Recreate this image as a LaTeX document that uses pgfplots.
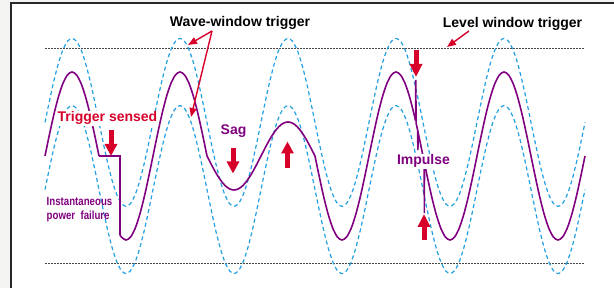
\documentclass[border=0pt]{standalone}
\usepackage{fontspec}
\setmainfont{Liberation Sans}
\usepackage{graphicx}
\usepackage{pgfplots}
\pgfplotsset{compat=1.18}
\usepackage{pgfplotstable}
\usetikzlibrary{arrows.meta}

\definecolor{wavepurple}{RGB}{128,0,128}
\definecolor{trigred}{RGB}{214,0,42}
\definecolor{winblue}{RGB}{35,160,225}
\definecolor{bggray}{RGB}{244,245,243}
\definecolor{framegray}{RGB}{40,40,40}
\definecolor{dotgray}{RGB}{70,70,70}

% wave-window limits: phase (deg), upper limit, lower limit
\pgfplotstableread{
phase upper lower
0 0.4 -0.4
15 0.6588 -0.1412
30 0.9 0.1
45 1.1071 0.3071
60 1.266 0.466
75 1.3659 0.5659
90 1.4 0.6
105 1.3659 0.5659
120 1.266 0.466
135 1.1071 0.3071
150 0.9 0.1
165 0.6588 -0.1412
180 0.4 -0.4
195 0.1412 -0.6588
210 -0.1 -0.9
225 -0.3071 -1.1071
240 -0.466 -1.266
255 -0.5659 -1.3659
270 -0.6 -1.4
285 -0.5659 -1.3659
300 -0.466 -1.266
315 -0.3071 -1.1071
330 -0.1 -0.9
345 0.1412 -0.6588
360 0.4 -0.4
375 0.6588 -0.1412
390 0.9 0.1
405 1.1071 0.3071
420 1.266 0.466
435 1.3659 0.5659
450 1.4 0.6
465 1.3659 0.5659
480 1.266 0.466
495 1.1071 0.3071
510 0.9 0.1
525 0.6588 -0.1412
540 0.4 -0.4
555 0.1412 -0.6588
570 -0.1 -0.9
585 -0.3071 -1.1071
600 -0.466 -1.266
615 -0.5659 -1.3659
630 -0.6 -1.4
645 -0.5659 -1.3659
660 -0.466 -1.266
675 -0.3071 -1.1071
690 -0.1 -0.9
705 0.1412 -0.6588
720 0.4 -0.4
735 0.6588 -0.1412
750 0.9 0.1
765 1.1071 0.3071
780 1.266 0.466
795 1.3659 0.5659
810 1.4 0.6
825 1.3659 0.5659
840 1.266 0.466
855 1.1071 0.3071
870 0.9 0.1
885 0.6588 -0.1412
900 0.4 -0.4
915 0.1412 -0.6588
930 -0.1 -0.9
945 -0.3071 -1.1071
960 -0.466 -1.266
975 -0.5659 -1.3659
990 -0.6 -1.4
1005 -0.5659 -1.3659
1020 -0.466 -1.266
1035 -0.3071 -1.1071
1050 -0.1 -0.9
1065 0.1412 -0.6588
1080 0.4 -0.4
1095 0.6588 -0.1412
1110 0.9 0.1
1125 1.1071 0.3071
1140 1.266 0.466
1155 1.3659 0.5659
1170 1.4 0.6
1185 1.3659 0.5659
1200 1.266 0.466
1215 1.1071 0.3071
1230 0.9 0.1
1245 0.6588 -0.1412
1260 0.4 -0.4
1275 0.1412 -0.6588
1290 -0.1 -0.9
1305 -0.3071 -1.1071
1320 -0.466 -1.266
1335 -0.5659 -1.3659
1350 -0.6 -1.4
1365 -0.5659 -1.3659
1380 -0.466 -1.266
1395 -0.3071 -1.1071
1410 -0.1 -0.9
1425 0.1412 -0.6588
1440 0.4 -0.4
1455 0.6588 -0.1412
1470 0.9 0.1
1485 1.1071 0.3071
1500 1.266 0.466
1515 1.3659 0.5659
1530 1.4 0.6
1545 1.3659 0.5659
1560 1.266 0.466
1575 1.1071 0.3071
1590 0.9 0.1
1605 0.6588 -0.1412
1620 0.4 -0.4
1635 0.1412 -0.6588
1650 -0.1 -0.9
1665 -0.3071 -1.1071
1680 -0.466 -1.266
1695 -0.5659 -1.3659
1710 -0.6 -1.4
1725 -0.5659 -1.3659
1740 -0.466 -1.266
1755 -0.3071 -1.1071
1770 -0.1 -0.9
1785 0.1412 -0.6588
1800 0.4 -0.4
}\envelope

\begin{document}
\begin{tikzpicture}
% ---------------- data axis ----------------
\begin{axis}[
  hide axis, scale only axis,
  width=614pt, height=288pt,
  xmin=-150, xmax=1896.667,
  ymin=-1.571429, ymax=1.857143,
]
\fill[bggray] (rel axis cs:0,0) rectangle (rel axis cs:1,1);
\fill[white] (rel axis cs:0.017915,0) rectangle (rel axis cs:1,0.98958);
\draw[framegray, line width=1.3pt] (rel axis cs:0.017915,0) -- (rel axis cs:0.017915,0.98958) -- (rel axis cs:1,0.98958);

% level window (dotted)
\addplot[dotgray, line width=1pt, dash pattern=on 1.5pt off 1.5pt] coordinates {(0,1.28) (1800,1.28)};
\addplot[dotgray, line width=1pt, dash pattern=on 1.5pt off 1.5pt] coordinates {(0,-1.28) (1800,-1.28)};

% wave window (dashed)
\addplot[winblue, line width=1.2pt, dash pattern=on 4pt off 3pt, smooth] table[x=phase, y=upper] {\envelope};
\addplot[winblue, line width=1.2pt, dash pattern=on 4pt off 3pt, smooth] table[x=phase, y=lower] {\envelope};

% measured waveform
\addplot[wavepurple, line width=1.6pt, smooth] coordinates {
(0,0) (15,0.2588) (30,0.5) (45,0.7071) (60,0.866) (75,0.9659) (90,1) (105,0.9659) (120,0.866) (135,0.7071) (150,0.5) (165,0.2588) (180,0)};
\addplot[wavepurple, line width=1.6pt] coordinates {(180,0) (250,0) (250,-0.9397)};
\addplot[wavepurple, line width=1.6pt, smooth] coordinates {
(250,-0.9397) (255,-0.9659) (270,-1) (285,-0.9659) (300,-0.866) (315,-0.7071) (330,-0.5) (345,-0.2588) (360,0)
(375,0.2588) (390,0.5) (405,0.7071) (420,0.866) (435,0.9659) (450,1) (465,0.9659) (480,0.866) (495,0.7071) (510,0.5) (525,0.2588) (540,0)};
% sag
\addplot[wavepurple, line width=1.6pt, smooth] coordinates {
(540,0) (555,-0.1048) (570,-0.2025) (585,-0.2864) (600,-0.3507) (615,-0.3912) (630,-0.405) (645,-0.3912) (660,-0.3507) (675,-0.2864) (690,-0.2025) (705,-0.1048) (720,0)
(735,0.1048) (750,0.2025) (765,0.2864) (780,0.3507) (795,0.3912) (810,0.405) (825,0.3912) (840,0.3507) (855,0.2864) (870,0.2025) (885,0.1048) (900,0)};
\addplot[wavepurple, line width=1.6pt, smooth] coordinates {
(900,0) (915,-0.2588) (930,-0.5) (945,-0.7071) (960,-0.866) (975,-0.9659) (990,-1) (1005,-0.9659) (1020,-0.866) (1035,-0.7071) (1050,-0.5) (1065,-0.2588) (1080,0)
(1095,0.2588) (1110,0.5) (1125,0.7071) (1140,0.866) (1155,0.9659) (1170,1) (1185,0.9659) (1200,0.866) (1215,0.7071) (1230,0.5) (1235,0.4226)};
% impulse
\addplot[wavepurple, line width=1.6pt] coordinates {
(1235,0.4226) (1236,0.905) (1237,0.3907) (1242,0.309) (1243,0.07) (1244,0.2756) (1250,0.1736) (1260,0) (1264,-0.0698) (1264.5,-0.679) (1265,-0.0872)};
\addplot[wavepurple, line width=1.6pt, smooth] coordinates {
(1265,-0.0872) (1275,-0.2588) (1290,-0.5) (1305,-0.7071) (1320,-0.866) (1335,-0.9659) (1350,-1) (1365,-0.9659) (1380,-0.866) (1395,-0.7071) (1410,-0.5) (1425,-0.2588) (1440,0)
(1455,0.2588) (1470,0.5) (1485,0.7071) (1500,0.866) (1515,0.9659) (1530,1) (1545,0.9659) (1560,0.866) (1575,0.7071) (1590,0.5) (1605,0.2588) (1620,0)
(1635,-0.2588) (1650,-0.5) (1665,-0.7071) (1680,-0.866) (1695,-0.9659) (1710,-1) (1725,-0.9659) (1740,-0.866) (1755,-0.7071) (1770,-0.5) (1785,-0.2588) (1800,0)};
\end{axis}

% ---------------- annotation overlay (pixel coordinates) ----------------
\begin{axis}[
  hide axis, scale only axis,
  width=614pt, height=288pt,
  xmin=0, xmax=614, ymin=0, ymax=288, y dir=reverse,
  clip=false,
]
\tikzset{lbl/.style={anchor=base, inner sep=0.8pt, font=\fontsize{14}{16}\selectfont\bfseries}}
\node[lbl] at (axis cs:240,27) {Wave-window trigger};
\node[lbl] at (axis cs:512.5,28) {Level window trigger};
\node[lbl, text=trigred, fill=white] at (axis cs:107.5,122) {Trigger sensed};
\node[lbl, text=wavepurple, fill=white] at (axis cs:233.5,135) {Sag};
\node[lbl, text=wavepurple, fill=white] at (axis cs:423.5,165) {Impulse};
\node[anchor=base west, inner sep=0pt, text=wavepurple] at (axis cs:46.5,205.5) {\scalebox{0.82}[1]{\fontsize{11.8}{14}\selectfont\bfseries Instantaneous}};
\node[anchor=base west, inner sep=0pt, text=wavepurple] at (axis cs:46.5,220) {\scalebox{0.82}[1]{\fontsize{11.8}{14}\selectfont\bfseries power\ \ failure}};

% thin pointer arrows
\draw[trigred, line width=1.4pt, -{Triangle[width=7pt,length=9pt]}] (axis cs:212,31) -- (axis cs:188,45);
\draw[trigred, line width=1.4pt, -{Triangle[width=7pt,length=9pt]}] (axis cs:212,31) -- (axis cs:191,117);
\draw[trigred, line width=1.4pt, -{Triangle[width=7pt,length=9pt]}] (axis cs:469,31) -- (axis cs:447,47);

% block arrows
\draw[trigred, line width=5pt, -{Triangle[width=12pt,length=12pt]}] (axis cs:111,130) -- (axis cs:111,156);
\draw[trigred, line width=5pt, -{Triangle[width=12pt,length=12pt]}] (axis cs:233,148) -- (axis cs:233,173.5);
\draw[trigred, line width=5pt, -{Triangle[width=12pt,length=12pt]}] (axis cs:287.5,168) -- (axis cs:287.5,141.5);
\draw[trigred, line width=5pt, -{Triangle[width=12pt,length=13pt]}] (axis cs:416,50) -- (axis cs:416,77);
\draw[trigred, line width=5pt, -{Triangle[width=12pt,length=13pt]}] (axis cs:424,240) -- (axis cs:424,214);
\end{axis}
\end{tikzpicture}
\end{document}
